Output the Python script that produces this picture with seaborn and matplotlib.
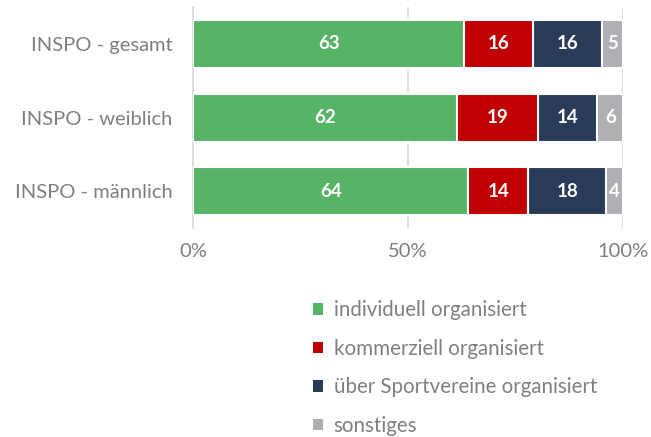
import numpy as np
import pandas as pd
import matplotlib
matplotlib.use("Agg")
import matplotlib.pyplot as plt
import seaborn as sns
from matplotlib.patches import Patch

groups = ["INSPO - gesamt", "INSPO - weiblich", "INSPO - männlich"]
series = ["individuell organisiert", "kommerziell organisiert",
          "über Sportvereine organisiert", "sonstiges"]
individuell = [63, 62, 64]
kommerziell = [16, 19, 14]
sportverein = [16, 14, 18]
sonstiges   = [5, 6, 4]
colors = ["#57b466", "#c00000", "#283c5a", "#b0b0b4"]
xticks = [0, 0.5, 1.0]
xtick_labels = ["0%", "50%", "100%"]

sns.set_style("white")
plt.rcParams["font.family"] = ["Lato", "DejaVu Sans"]
grey = "#7f7f7f"

vals = np.array([individuell, kommerziell, sportverein, sonstiges], dtype=float)
shares = vals / vals.sum(axis=0)
cum = np.cumsum(shares, axis=0)

fig = plt.figure(figsize=(6.51, 4.37), dpi=100)
ax = fig.add_axes([0.297, 0.478, 0.660, 0.506])

# stacked bars: draw cumulative totals from the back to the front
for i in range(len(series) - 1, -1, -1):
    df = pd.DataFrame({"group": groups, "value": cum[i]})
    sns.barplot(data=df, x="value", y="group", orient="h", color=colors[i],
                saturation=1, width=0.65, edgecolor="white", linewidth=1.5,
                ax=ax, zorder=3)

for i in range(len(series)):
    for j in range(len(groups)):
        left = cum[i - 1, j] if i > 0 else 0
        ax.text(left + shares[i, j] / 2, j, f"{int(vals[i, j])}",
                ha="center", va="center", color="white",
                fontsize=13.5, fontweight="bold", zorder=5)

ax.set_xlim(0, 1.0)
ax.set_ylim(2.5, -0.5)
ax.set_xticks(xticks)
ax.set_xticklabels(xtick_labels, color=grey, fontsize=14.5)
ax.set_yticklabels(groups, color=grey, fontsize=14.5)
ax.set_xlabel("")
ax.set_ylabel("")
ax.xaxis.grid(True, color="#d9d9d9", linewidth=1.2, zorder=0)
ax.tick_params(axis="x", length=0, pad=11)
ax.tick_params(axis="y", which="major", length=0, pad=15)
ax.set_yticks([-0.5, 0.5, 1.5, 2.5], minor=True)
ax.tick_params(axis="y", which="minor", length=5, color="#d9d9d9", width=1.2)
for s in ["top", "right", "bottom"]:
    ax.spines[s].set_visible(False)
ax.spines["left"].set_color("#d9d9d9")
ax.spines["left"].set_linewidth(1.2)

handles = [Patch(facecolor=c, edgecolor="none") for c in colors]
fig.legend(handles, series, loc="upper left", bbox_to_anchor=(0.481, 0.313),
           frameon=False, fontsize=14.8, labelcolor=grey, handlelength=0.5,
           handleheight=0.5, handletextpad=0.5, labelspacing=0.9,
           borderaxespad=0, borderpad=0)

fig.savefig("out.png", dpi=100)
